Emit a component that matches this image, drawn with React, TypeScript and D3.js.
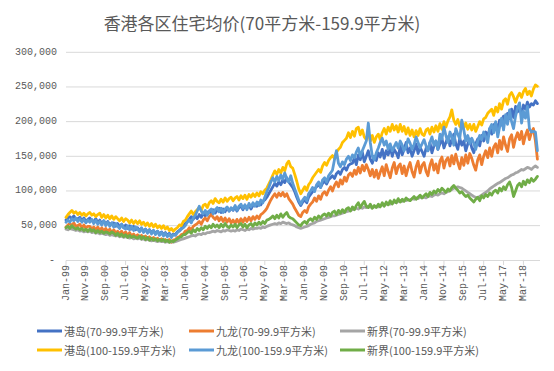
import React from "react";
import * as d3 from "d3";

// 月度均价，单位：千（画图时 ×1000），Jan-99 ~ Oct-18
const hkSmall = [
  58, 61, 63, 60, 64, 59, 60, 62, 57, 61, 56, 59,
  61, 57, 56, 60, 54, 58, 53, 57, 52, 56, 51, 54,
  54, 49, 53, 48, 52, 47, 51, 46, 50, 45, 49, 44,
  47, 43, 46, 42, 45, 41, 44, 40, 43, 39, 42, 38,
  41, 37, 40, 36, 39, 35, 38, 37, 41, 43, 46, 49,
  53, 56, 59, 63, 59, 64, 60, 66, 62, 68, 64, 69,
  71, 67, 73, 68, 72, 75, 69, 74, 70, 76, 71, 75,
  72, 77, 71, 76, 78, 73, 79, 75, 80, 74, 79, 81,
  78, 83, 80, 85, 87, 91, 96, 101, 106, 111, 107, 113,
  109, 116, 112, 119, 113, 109, 105, 99, 91, 84, 79, 84,
  87, 83, 91, 95, 99, 103, 106, 109, 105, 111, 114, 110,
  116, 119, 122, 118, 125, 128, 124, 131, 134, 130, 137, 139,
  140, 148, 138, 152, 145, 156, 142, 150, 158, 146, 140, 150,
  144, 155, 149, 160, 147, 158, 152, 163, 150, 160, 155, 148,
  165, 152, 160, 170, 155, 162, 150, 158, 168, 154, 163, 157,
  150, 162, 158, 170, 155, 165, 172, 160, 168, 176, 162, 170,
  178, 165, 174, 182, 168, 160, 176, 166, 172, 158, 168, 175,
  162, 155, 168, 175, 165, 180, 172, 185, 178, 190, 182, 195,
  198, 188, 202, 195, 208, 200, 212, 204, 218, 206, 222, 214,
  220, 212, 224, 218, 228, 221, 226, 224, 230, 226,
];

const klnSmall = [
  48, 51, 53, 50, 54, 49, 50, 52, 47, 51, 46, 49,
  49, 45, 48, 44, 48, 43, 47, 42, 46, 41, 45, 40,
  44, 39, 42, 38, 42, 37, 41, 36, 40, 35, 38, 34,
  37, 33, 36, 32, 35, 31, 34, 30, 33, 29, 32, 29,
  31, 28, 30, 27, 30, 26, 29, 30, 33, 34, 37, 38,
  42, 43, 47, 44, 49, 51, 53, 56, 52, 58, 61, 57,
  63, 66, 62, 59, 63, 57, 62, 56, 61, 55, 60, 54,
  58, 53, 59, 54, 60, 55, 61, 56, 62, 57, 63, 59,
  64, 60, 66, 68, 71, 75, 81, 87, 92, 96, 91, 97,
  93, 98, 92, 96, 89, 85, 81, 75, 70, 65, 63, 69,
  72, 69, 77, 81, 84, 90, 85, 93, 88, 96, 99, 94,
  101, 106, 100, 108, 113, 106, 116, 110, 120, 114, 123, 126,
  121, 130, 124, 134, 126, 137, 129, 138, 131, 122, 131, 120,
  130, 118, 127, 135, 122, 138, 128, 119, 133, 141, 125, 135,
  139, 125, 136, 122, 133, 141, 128, 120, 135, 143, 126, 137,
  141, 128, 122, 137, 145, 130, 139, 126, 143, 149, 133, 144,
  148, 136, 151, 139, 153, 141, 132, 148, 137, 152, 140, 154,
  147, 137, 130, 145, 152, 138, 150, 158, 148, 162, 150, 163,
  168, 155, 173, 160, 178, 166, 157, 175, 181, 163, 176, 184,
  174, 186, 168, 180, 188, 174, 184, 190, 172, 146,
];

const ntSmall = [
  45, 44, 46, 45, 44, 43, 44, 42, 43, 41, 42, 41,
  42, 40, 41, 39, 40, 38, 39, 38, 37, 38, 36, 37,
  36, 35, 36, 34, 35, 33, 34, 33, 32, 33, 31, 32,
  31, 32, 30, 31, 29, 30, 29, 28, 29, 28, 27, 28,
  27, 28, 26, 27, 26, 27, 26, 27, 28, 29, 30, 31,
  32, 33, 34, 35, 36, 35, 37, 38, 37, 39, 38, 40,
  40, 41, 42, 41, 43, 42, 41, 43, 42, 44, 43, 42,
  43, 42, 44, 43, 45, 44, 43, 45, 44, 46, 45, 46,
  46, 47, 46, 48, 47, 49, 50, 51, 52, 53, 52, 54,
  53, 55, 54, 53, 54, 52, 51, 50, 48, 47, 46, 47,
  48, 49, 50, 52, 53, 54, 56, 57, 58, 59, 60, 61,
  62, 63, 64, 64, 65, 66, 67, 68, 69, 70, 71, 72,
  73, 74, 75, 74, 76, 75, 77, 76, 78, 77, 76, 77,
  78, 77, 79, 80, 79, 81, 82, 81, 83, 84, 83, 85,
  86, 85, 87, 86, 88, 87, 89, 88, 90, 89, 91, 90,
  91, 90, 92, 93, 92, 94, 95, 94, 96, 97, 96, 98,
  99, 101, 102, 104, 105, 106, 105, 104, 102, 100, 98, 96,
  94, 92, 91, 90, 92, 94, 96, 98, 100, 103, 105, 107,
  109, 111, 112, 114, 116, 118, 119, 121, 123, 124, 126, 127,
  129, 131, 130, 132, 134, 133, 131, 134, 136, 134,
];

const hkLarge = [
  62, 66, 69, 72, 68, 70, 66, 69, 65, 68, 64, 67,
  69, 65, 67, 63, 66, 68, 62, 66, 61, 65, 60, 64,
  59, 63, 60, 57, 61, 56, 60, 58, 54, 58, 53, 57,
  53, 57, 52, 55, 50, 54, 49, 53, 48, 52, 47, 50,
  46, 50, 45, 48, 43, 46, 42, 45, 47, 51, 50, 56,
  58, 63, 67, 71, 66, 70, 73, 76, 72, 79, 81, 76,
  83, 86, 82, 89, 85, 83, 88, 84, 90, 85, 89, 91,
  86, 90, 92, 87, 93, 89, 94, 88, 95, 91, 96, 92,
  97, 93, 99, 96, 101, 104, 110, 116, 123, 129, 124, 131,
  126, 134, 129, 139, 143, 135, 133, 124, 114, 103, 96, 101,
  106, 101, 109, 113, 119, 123, 127, 131, 127, 136, 141, 137,
  144, 148, 151, 147, 156, 160, 163, 170, 173, 176, 184, 177,
  186, 179, 190, 192, 181, 188, 178, 174, 184, 172, 180, 170,
  178, 182, 174, 184, 190, 182, 192, 186, 196, 188, 194, 185,
  196, 186, 193, 182, 191, 180, 188, 178, 187, 180, 190, 182,
  180, 188, 190, 182, 192, 185, 194, 186, 197, 189, 200, 192,
  201, 207, 217, 202, 196, 203, 193, 200, 191, 198, 189, 196,
  188, 196, 186, 193, 200, 195, 204, 206, 212, 215, 218, 209,
  221, 214, 226, 218, 230, 233, 225, 238, 242, 236, 228, 236,
  241, 235, 243, 248, 239, 244, 237, 247, 253, 251,
];

const klnLarge = [
  55, 58, 55, 60, 57, 61, 56, 60, 55, 59, 54, 58,
  55, 59, 53, 58, 52, 56, 51, 57, 50, 55, 49, 54,
  48, 53, 49, 46, 52, 47, 45, 50, 44, 49, 43, 48,
  45, 41, 47, 40, 45, 39, 44, 38, 43, 37, 42, 36,
  40, 35, 39, 34, 38, 33, 37, 36, 40, 42, 45, 47,
  50, 55, 58, 54, 61, 65, 71, 78, 71, 67, 72, 65,
  71, 74, 67, 73, 76, 70, 75, 69, 74, 77, 71, 76,
  73, 79, 72, 78, 81, 75, 80, 73, 82, 77, 83, 78,
  84, 79, 87, 83, 91, 99, 105, 113, 119, 113, 121, 115,
  123, 117, 126, 118, 113, 122, 111, 103, 95, 87, 81, 87,
  91, 86, 96, 100, 105, 99, 109, 113, 105, 116, 119, 113,
  122, 126, 130, 145, 158, 140, 135, 142, 138, 146, 150, 144,
  152, 148, 156, 162, 150, 158, 165, 172, 198, 170, 150, 145,
  155, 162, 170, 176, 166, 172, 160, 168, 158, 164, 170, 162,
  172, 166, 158, 164, 175, 169, 160, 167, 178, 170, 162, 168,
  174, 165, 158, 170, 178, 166, 172, 160, 182, 175, 192, 180,
  170, 185, 178, 166, 190, 182, 175, 202, 188, 172, 180, 168,
  176, 169, 160, 172, 180, 174, 185, 178, 170, 190, 196, 184,
  200, 178, 192, 205, 188, 210, 196, 217, 200, 190, 208, 220,
  227, 198, 215, 205, 222, 190, 185, 186, 185, 158,
];

const ntLarge = [
  47, 49, 46, 50, 47, 45, 47, 44, 46, 43, 45, 42,
  45, 42, 44, 40, 43, 40, 42, 39, 41, 40, 38, 41,
  39, 36, 39, 35, 38, 34, 37, 33, 36, 33, 35, 33,
  32, 35, 31, 34, 30, 33, 29, 32, 29, 31, 28, 30,
  28, 30, 27, 29, 26, 28, 27, 29, 31, 33, 34, 37,
  37, 40, 42, 39, 44, 41, 46, 43, 47, 44, 49, 46,
  50, 47, 52, 48, 51, 47, 52, 48, 53, 49, 47, 51,
  48, 52, 47, 51, 53, 48, 52, 47, 51, 53, 49, 54,
  51, 55, 52, 56, 53, 58, 59, 61, 64, 60, 65, 61,
  67, 62, 66, 69, 63, 61, 60, 57, 54, 51, 50, 54,
  56, 53, 58, 60, 57, 62, 59, 64, 61, 65, 67, 64,
  68, 64, 69, 71, 66, 72, 68, 73, 69, 74, 76, 71,
  77, 73, 79, 83, 76, 81, 85, 78, 76, 81, 75, 79,
  76, 81, 77, 83, 78, 84, 80, 86, 81, 87, 83, 89,
  84, 88, 85, 90, 87, 86, 89, 92, 88, 91, 94, 90,
  93, 96, 92, 98, 95, 100, 97, 102, 99, 104, 101, 98,
  103, 100, 105, 108, 104, 101, 97, 99, 95, 92, 94, 90,
  87, 84, 88, 91, 86, 93, 90, 95, 92, 97, 94, 99,
  101, 97, 104, 100, 106, 102, 109, 113, 105, 92, 100, 108,
  111, 106, 114, 109, 116, 112, 118, 114, 117, 121,
];

const seriesNames = [
  "港岛(70-99.9平方米)",
  "九龙(70-99.9平方米)",
  "新界(70-99.9平方米)",
  "港岛(100-159.9平方米)",
  "九龙(100-159.9平方米)",
  "新界(100-159.9平方米)",
];
const seriesValues = [hkSmall, klnSmall, ntSmall, hkLarge, klnLarge, ntLarge];
const colors = ["#4472C4", "#ED7D31", "#A5A5A5", "#FFC000", "#5B9BD5", "#70AD47"];

const yTicks = [0, 50000, 100000, 150000, 200000, 250000, 300000];
const title = "香港各区住宅均价(70平方米-159.9平方米)";

const width = 554;
const height = 371;
const textColor = "#595959";
const gridColor = "#D9D9D9";

const dates = hkSmall.map((_, i) => new Date(1999, i, 1));
const tickDates = d3.range(0, dates.length, 10).map((i) => dates[i]);
const fmtMonth = d3.timeFormat("%b-%y");
const fmtNum = d3.format(",");

export default function App() {
  const x = d3
    .scaleTime()
    .domain([dates[0], dates[dates.length - 1]])
    .range([66, 537.4]);
  const y = d3.scaleLinear().domain([0, 300000]).range([260.3, 52.3]);
  const plotRight = 540;

  const line = d3
    .line<number>()
    .x((_, i) => x(dates[i]))
    .y((d) => y(d * 1000));

  const legendCols = [37, 189, 340];
  const legendRows = [331, 350];

  return (
    <svg
      width={width}
      height={height}
      style={{ position: "absolute", left: 0, top: 0, background: "#fff" }}
    >
      <rect width={width} height={height} fill="#fff" />
      <text
        x={262}
        y={22}
        textAnchor="middle"
        dominantBaseline="central"
        fontFamily="Noto Sans CJK SC"
        fontSize={17}
        fill={textColor}
      >
        {title}
      </text>

      {/* grid + y labels */}
      {yTicks.map((t) => (
        <g key={t}>
          {t > 0 && (
            <line x1={66} x2={plotRight} y1={y(t)} y2={y(t)} stroke={gridColor} strokeWidth={1} />
          )}
          <text
            x={t === 0 ? 55 : 57}
            y={y(t)}
            textAnchor="end"
            dominantBaseline="central"
            fontFamily="Liberation Mono"
            fontSize={10}
            fill={textColor}
          >
            {t === 0 ? "-" : fmtNum(t)}
          </text>
        </g>
      ))}

      {/* x axis */}
      <line x1={66} x2={plotRight} y1={260.5} y2={260.5} stroke={gridColor} strokeWidth={1} />
      {tickDates.map((d) => (
        <g key={d.getTime()} transform={`translate(${x(d)},0)`}>
          <line y1={260.5} y2={265} stroke={gridColor} strokeWidth={1} />
          <text
            transform="translate(0,265) rotate(-90)"
            textAnchor="end"
            dominantBaseline="central"
            fontFamily="Liberation Mono"
            fontSize={10}
            fill={textColor}
          >
            {fmtMonth(d)}
          </text>
        </g>
      ))}

      {/* series */}
      {seriesValues.map((vals, k) => (
        <path
          key={seriesNames[k]}
          d={line(vals) || ""}
          fill="none"
          stroke={colors[k]}
          strokeWidth={2.8}
          strokeLinejoin="round"
          strokeLinecap="round"
        />
      ))}

      {/* legend */}
      {seriesNames.map((name, k) => {
        const lx = legendCols[k % 3];
        const ly = legendRows[Math.floor(k / 3)];
        return (
          <g key={name}>
            <line x1={lx} x2={lx + 25} y1={ly} y2={ly} stroke={colors[k]} strokeWidth={3} />
            <text
              x={lx + 27}
              y={ly}
              dominantBaseline="central"
              fontFamily="Noto Sans CJK SC"
              fontSize={11}
              fill={textColor}
            >
              {name}
            </text>
          </g>
        );
      })}
    </svg>
  );
}
